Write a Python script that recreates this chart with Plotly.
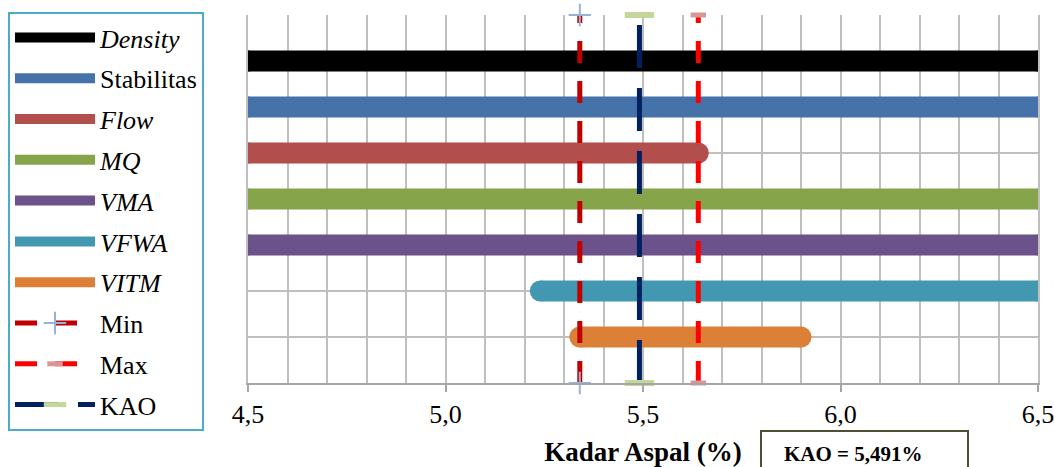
import plotly.graph_objects as go

# Asphalt-content ranges satisfying each Marshall criterion
series_names = ["<i>Density</i>", "Stabilitas", "<i>Flow</i>", "<i>MQ</i>",
                "<i>VMA</i>", "<i>VFWA</i>", "<i>VITM</i>"]
range_start = [4.5, 4.5, 4.5, 4.5, 4.5, 5.24, 5.34]
range_end = [6.5, 6.5, 5.64, 6.5, 6.5, 6.5, 5.90]
row_level = [7, 6, 5, 4, 3, 2, 1]
bar_colors = ["#000000", "#4672aa", "#b24f4d", "#86a44a",
              "#6b528b", "#4298b0", "#dc8038"]

# Limits of the common range and the optimum asphalt content
kao_min = 5.34
kao_max = 5.64
kao_value = 5.491
kao_label = "KAO = 5,491%"

x_ticks = [4.5, 5.0, 5.5, 6.0, 6.5]
x_tick_labels = ["4,5", "5,0", "5,5", "6,0", "6,5"]
y_bottom, y_top = 0, 8

FONT = "Times New Roman"
BAR_W = 21
GRID = "#bfbfbf"

fig = go.Figure()

for i, name in enumerate(series_names):
    xs = [range_start[i], range_end[i]]
    ys = [row_level[i], row_level[i]]
    fig.add_trace(go.Scatter(
        x=xs, y=ys, mode="lines", name=name, legendgroup=f"g{i}",
        line=dict(color=bar_colors[i], width=BAR_W),
    ))
    # rounded ends of each range bar
    fig.add_trace(go.Scatter(
        x=xs, y=ys, mode="markers", showlegend=False, legendgroup=f"g{i}",
        marker=dict(color=bar_colors[i], size=BAR_W, line=dict(width=0)),
        hoverinfo="skip",
    ))

fig.add_trace(go.Scatter(
    x=[kao_min, kao_min], y=[y_bottom, y_top], mode="lines+markers", name="Min",
    legendgroup="gmin", cliponaxis=False,
    line=dict(color="#c00000", width=5, dash="22px,18px"),
    marker=dict(symbol="cross-thin", size=16, line=dict(color="#95b3d7", width=2)),
))
fig.add_trace(go.Scatter(
    x=[kao_max, kao_max], y=[y_bottom, y_top], mode="lines+markers", name="Max",
    legendgroup="gmax", cliponaxis=False,
    line=dict(color="#ff0000", width=5, dash="22px,18px"),
    marker=dict(symbol="line-ew", size=11, line=dict(color="#da9694", width=5)),
))
fig.add_trace(go.Scatter(
    x=[kao_value, kao_value], y=[y_bottom, y_top], mode="lines+markers", name="KAO",
    legendgroup="gkao", cliponaxis=False,
    line=dict(color="#002060", width=5, dash="43px,20px"),
    marker=dict(symbol="line-ew", size=21, line=dict(color="#c3d69b", width=6)),
))

# KAO result box below the axis
fig.add_shape(type="rect", xref="paper", yref="paper",
              x0=(761 - 248) / 790, x1=(968 - 248) / 790,
              y0=(383 - 472) / 368, y1=(383 - 431) / 368,
              line=dict(color="#4f4f37", width=2), fillcolor="white")
fig.add_annotation(text=f"<b>{kao_label}</b>", xref="paper", yref="paper",
                   x=(782 - 248) / 790, y=(383 - 454) / 368,
                   xanchor="left", yanchor="middle", showarrow=False,
                   font=dict(family=FONT, size=21, color="black"))

fig.update_layout(
    width=1054, height=467,
    margin=dict(l=248, r=16, t=15, b=84, autoexpand=False),
    paper_bgcolor="white", plot_bgcolor="white",
    font=dict(family=FONT, size=26, color="black"),
    showlegend=True,
    legend=dict(
        x=(8 - 248) / 790, y=1 + 3 / 368, xanchor="left", yanchor="top",
        bordercolor="#4bacc6", borderwidth=2, bgcolor="white",
        font=dict(family=FONT, size=26, color="black"),
        itemwidth=80, tracegroupgap=4, traceorder="grouped",
        maxheight=440,
    ),
    xaxis=dict(
        range=[4.5, 6.5], tickvals=x_ticks, ticktext=x_tick_labels,
        showgrid=True, gridcolor=GRID, gridwidth=2,
        minor=dict(dtick=0.1, showgrid=True, gridcolor=GRID, gridwidth=2),
        ticks="outside", ticklen=7, tickcolor="#a6a6a6", tickwidth=2,
        showline=True, linecolor="#a6a6a6", linewidth=2,
        zeroline=False, automargin=False, ticklabeloverflow="allow",
        title=dict(text="<b>Kadar Aspal (%)</b>", standoff=17,
                   font=dict(family=FONT, size=27)),
        tickfont=dict(family=FONT, size=26),
    ),
    yaxis=dict(
        range=[y_bottom, y_top], dtick=1, showticklabels=False,
        showgrid=True, gridcolor=GRID, gridwidth=2,
        showline=True, mirror=True, linecolor=GRID, linewidth=2,
        zeroline=False, ticks="", automargin=False,
    ),
)

fig.write_html("out.html")
